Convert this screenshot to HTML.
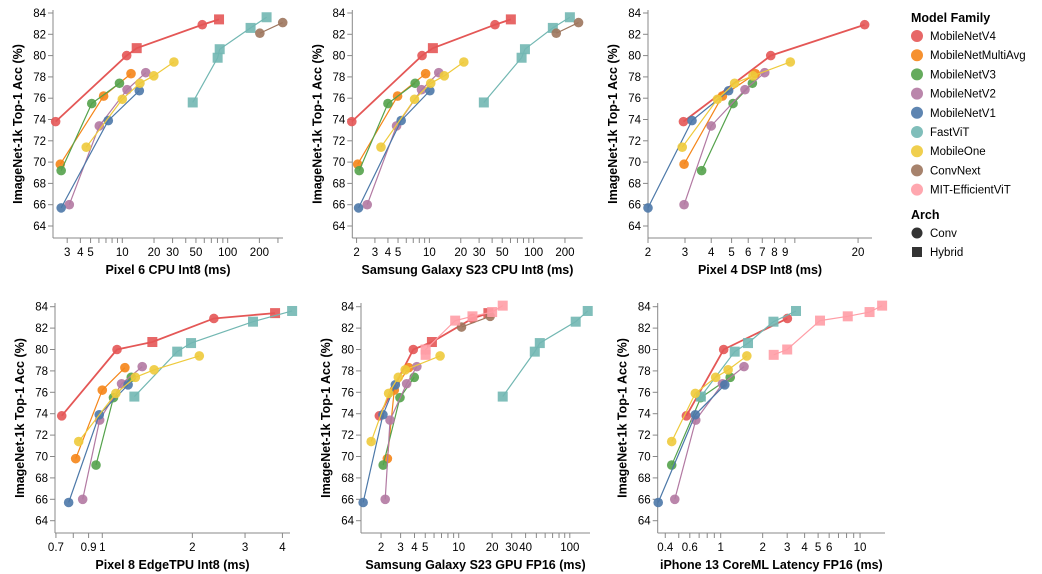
<!DOCTYPE html>
<html><head><meta charset="utf-8"><style>
body{margin:0;background:#fff;}
svg{display:block;font-family:"Liberation Sans",Helvetica,Arial,sans-serif;}
</style></head><body>
<svg id="chart" width="1042" height="574" viewBox="0 0 1042 574"></svg>
<script>
// ---------- data ----------
const families = ["MobileNetV4","MobileNetMultiAvg","MobileNetV3","MobileNetV2","MobileNetV1","FastViT","MobileOne","ConvNext","MIT-EfficientViT"];
const colors = ["#e45756","#f58518","#54a24b","#b279a2","#4c78a8","#72b7b2","#eeca3b","#9d755d","#ff9da6"];
const accMobileNetV4 = [73.8, 80.0, 80.7, 82.9, 83.4];
const hybMobileNetV4 = [0, 0, 1, 0, 1];
const accMultiAvg = [69.8, 76.2, 78.3];
const accV3 = [69.2, 75.5, 77.4];
const accV2 = [66.0, 73.4, 76.8, 78.4];
const accV1 = [65.7, 73.9, 76.7];
const accFastViT = [75.6, 79.8, 80.6, 82.6, 83.6];
const accMobileOne = [71.4, 75.9, 77.4, 78.1, 79.4];
const accConvNext = [82.1, 83.1];
const accEffViT = [79.5, 80.0, 82.7, 83.1, 83.5, 84.1];
const yTicks = [64,66,68,70,72,74,76,78,80,82,84];

const latPixel6Cpu = [[2.33,11.0,13.7,57.4,82.8],[2.58,6.65,12.1],[2.63,5.13,9.4],[3.14,6.05,11.1,16.7],[2.63,7.36,14.5],[46.6,80.3,84,165,234],[4.55,10,14.7,19.9,30.9],[202,333],null];
const latS23Cpu = [[1.8,8.5,10.8,42.6,60.5],[2.05,4.95,9.2],[2.12,4.0,7.3],[2.53,4.84,8.4,12.3],[2.09,5.36,10.1],[33.3,76.7,82.6,153,223],[3.43,7.2,10.3,13.9,21.4],[165,270],null];
const latPixel4Dsp = [[2.95,7.68,null,21.5,null],[2.97,4.52,6.49],[3.6,5.08,6.28],[2.97,4.0,5.79,7.19],[2.0,3.24,4.84],null,[2.91,4.28,5.17,6.32,9.52],null,null];
const latPixel8Tpu = [[0.732,1.12,1.47,2.36,3.78],[0.815,1.0,1.19],[0.953,1.09,1.25],[0.86,0.98,1.16,1.36],[0.772,0.977,1.22],[1.28,1.78,1.98,3.19,4.31],[0.834,1.11,1.29,1.49,2.11],null,null];
const latS23Gpu = [[1.93,3.9,5.74,13.3,18.5],[2.28,2.63,3.55],[2.09,2.96,3.98],[2.18,2.41,3.4,4.2],[1.38,2.08,2.69],[24.9,48.4,53.7,113,145],[1.63,2.34,2.86,3.3,6.8],[10.6,19.2],[5.04,5.04,9.3,13.3,20,24.9]];
const latIphone13 = [[0.567,1.05,null,3.01,null],null,[0.445,0.72,1.17],[0.468,0.662,1.03,1.47],[0.356,0.657,1.07],[0.72,1.26,1.57,2.39,3.47],[0.445,0.657,0.92,1.13,1.54],null,[2.4,3.0,5.16,8.16,11.7,14.4]];

const ticks1 = [3,4,5,10,20,30,50,100,200];
const ticks2 = [2,3,4,5,10,20,30,50,100,200];
const ticks3 = [2,3,4,5,6,7,8,9,20];
const ticks4 = [0.7,0.9,1,2,3,4];
const ticks5 = [2,3,4,5,10,20,30,40,100];
const ticks6 = [0.4,0.6,1,2,3,4,5,6,10];

const accs = [accMobileNetV4,accMultiAvg,accV3,accV2,accV1,accFastViT,accMobileOne,accConvNext,accEffViT];
const hybridFamily = [false,false,false,false,false,true,false,false,true];

const panels = [
 {name:"pixel6-cpu",title:"Pixel 6 CPU Int8 (ms)",lat:latPixel6Cpu,ticks:ticks1,dom:[2.2,335],px:[53,283],top:true},
 {name:"s23-cpu",title:"Samsung Galaxy S23 CPU Int8 (ms)",lat:latS23Cpu,ticks:ticks2,dom:[1.82,296],px:[352.3,582.7],top:true},
 {name:"pixel4-dsp",title:"Pixel 4 DSP Int8 (ms)",lat:latPixel4Dsp,ticks:ticks3,dom:[2.0,23.3],px:[648,872],top:true},
 {name:"pixel8-edgetpu",title:"Pixel 8 EdgeTPU Int8 (ms)",lat:latPixel8Tpu,ticks:ticks4,dom:[0.695,4.24],px:[55,290],top:false},
 {name:"s23-gpu",title:"Samsung Galaxy S23 GPU FP16 (ms)",lat:latS23Gpu,ticks:ticks5,dom:[1.32,152],px:[361,590],top:false},
 {name:"iphone13-coreml",title:"iPhone 13 CoreML Latency FP16 (ms)",lat:latIphone13,ticks:ticks6,dom:[0.353,15.1],px:[657.7,885],top:false}
];

// ---------- drawing ----------
const NS="http://www.w3.org/2000/svg";
const svg=document.getElementById("chart");
function mk(tag,attrs,parent){const e=document.createElementNS(NS,tag);for(const k in attrs)e.setAttribute(k,attrs[k]);(parent||svg).appendChild(e);return e;}

panels.forEach(p=>{
  const g=mk("g",{});
  
  
  const y84 = p.top?13:306.7, k = p.top?10.65:10.7;
  const yTop = p.top?10:303, yBot = p.top?238:533;
  const yS = v=> y84+(84-v)*k;
  const l0=Math.log10(p.dom[0]), l1=Math.log10(p.dom[1]);
  const xS = v=> p.px[0]+(Math.log10(v)-l0)/(l1-l0)*(p.px[1]-p.px[0]);
  const ax=p.px[0];
  // y axis
  const ya=mk("line",{x1:ax,y1:yTop,x2:ax,y2:yBot,stroke:"#888","stroke-width":1},g);
  
  
  yTicks.forEach(t=>{
    const y=yS(t);
    mk("line",{x1:ax-5,y1:y,x2:ax,y2:y,stroke:"#888"},g);
    const tx=mk("text",{x:ax-7,y:y+4,"text-anchor":"end","font-size":"11.5",fill:"#000"},g);
    tx.textContent=t;
    
    
  });
  const yt=mk("text",{transform:`translate(${ax-31},${(yTop+yBot)/2}) rotate(-90)`,"text-anchor":"middle","font-size":"12.5","font-weight":"bold"},g);
  yt.textContent="ImageNet-1k Top-1 Acc (%)";
  
  
  // x axis
  const xa=mk("line",{x1:ax,y1:yBot,x2:p.px[1],y2:yBot,stroke:"#888"},g);
  
  
  for(let e=-2;e<=3;e++){for(let m=1;m<10;m++){const v=m*Math.pow(10,e);
    if(v<p.dom[0]*0.999||v>p.dom[1])continue;const x=xS(v);
    mk("line",{x1:x,y1:yBot,x2:x,y2:yBot+5,stroke:"#888"},g);}}
  p.ticks.forEach(t=>{
    const tx=mk("text",{x:xS(t),y:yBot+18,"text-anchor":"middle","font-size":"11.5"},g);
    tx.textContent=t;
    
    
  });
  const xt=mk("text",{x:(p.px[0]+p.px[1])/2,y:yBot+36,"text-anchor":"middle","font-size":"12.5","font-weight":"bold"},g);
  xt.textContent=p.title;
  
  
  // series
  p.lat.forEach((lats,fi)=>{
    if(!lats)return;
    const acc=accs[fi], col=colors[fi];
    const pts=[];
    lats.forEach((v,i)=>{if(v!=null)pts.push([xS(v),yS(acc[i]),i]);});
    const ln=mk("polyline",{points:pts.map(q=>q[0]+","+q[1]).join(" "),fill:"none",stroke:col,"stroke-width":fi===0?1.8:1.2},g);
    
    
    pts.forEach(q=>{
      const hyb = hybridFamily[fi] || (fi===0 && hybMobileNetV4[q[2]]===1);
      let m;
      if(hyb) m=mk("rect",{x:q[0]-5,y:q[1]-5,width:10,height:10,fill:col,opacity:0.9},g);
      else m=mk("circle",{cx:q[0],cy:q[1],r:4.8,fill:col,opacity:0.9},g);
      
      
    });
  });
});

// legend
const lg=mk("g",{});


const lt=mk("text",{x:911,y:22,"font-size":"12.5","font-weight":"bold"},lg);
lt.textContent="Model Family";


families.forEach((f,i)=>{
  const y=36+i*19.2;
  const c=mk("circle",{cx:917,cy:y,r:6,fill:colors[i],opacity:0.9},lg);
  
  
  const t=mk("text",{x:930,y:y+4,"font-size":"11.5"},lg);
  t.textContent=f;
  
  
});
const at=mk("text",{x:911,y:219,"font-size":"12.5","font-weight":"bold"},lg);
at.textContent="Arch";


const cc=mk("circle",{cx:917,cy:233,r:5.5,fill:"#333"},lg);


const ct=mk("text",{x:930,y:237,"font-size":"11.5"},lg);ct.textContent="Conv";


const hr=mk("rect",{x:912,y:247,width:10,height:10,fill:"#333"},lg);


const ht=mk("text",{x:930,y:256,"font-size":"11.5"},lg);ht.textContent="Hybrid";


</script>
</body></html>
